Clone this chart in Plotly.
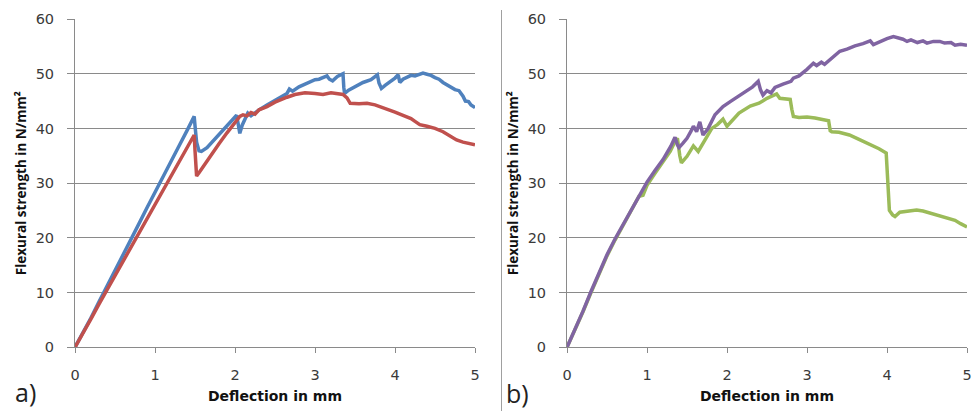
import plotly.graph_objects as go

# ---------------- data ----------------
# Panel a) blue specimen
blue_x = [0, 0.1, 0.2, 0.3, 0.4, 0.5, 0.6, 0.7, 0.8, 0.9, 1.0, 1.1, 1.2, 1.3, 1.4, 1.45, 1.47, 1.49,
          1.50, 1.52, 1.55, 1.58, 1.65, 1.7, 1.8, 1.9, 1.97, 2.02, 2.04, 2.06, 2.09, 2.12, 2.16, 2.2,
          2.3, 2.4, 2.5, 2.6, 2.65, 2.68, 2.72, 2.8, 2.9, 3.0, 3.05, 3.1, 3.15, 3.18, 3.22, 3.28, 3.33,
          3.35, 3.36, 3.37, 3.42, 3.5, 3.6, 3.7, 3.76, 3.78, 3.80, 3.83, 3.88, 3.95, 4.0, 4.04, 4.06,
          4.1, 4.15, 4.2, 4.25, 4.3, 4.35, 4.4, 4.45, 4.5, 4.55, 4.6, 4.65, 4.7, 4.75, 4.8, 4.85, 4.88,
          4.92, 4.95, 5.0]
blue_y = [0, 2.6, 5.4, 8.3, 11.1, 14.0, 16.9, 19.8, 22.6, 25.5, 28.4, 31.2, 34.0, 36.8, 39.6, 41.0, 41.3, 42.2,
          40.5, 37.5, 35.9, 35.8, 36.5, 37.3, 38.8, 40.3, 41.5, 42.4, 40.8, 39.1, 40.6, 41.4, 42.8, 42.3,
          43.4, 44.3, 45.2, 46.0, 46.4, 47.2, 46.8, 47.6, 48.2, 48.9, 49.0, 49.3, 49.6, 49.0, 48.7, 49.5, 49.8,
          50.0, 47.5, 46.4, 47.0, 47.6, 48.4, 48.9, 49.5, 49.8, 48.3, 47.3, 47.9, 48.6, 49.2, 49.8, 48.4,
          49.0, 49.4, 49.7, 49.6, 49.9, 50.1, 49.9, 49.7, 49.3, 49.0, 48.4, 48.0, 47.6, 47.1, 46.9, 45.9, 45.0,
          44.9, 44.3, 43.8]

# Panel a) red specimen
red_x = [0, 0.1, 0.2, 0.3, 0.4, 0.5, 0.6, 0.7, 0.8, 0.9, 1.0, 1.1, 1.2, 1.3, 1.4, 1.45, 1.49,
         1.50, 1.51, 1.52, 1.55, 1.6, 1.7, 1.8, 1.9, 2.0, 2.06, 2.1, 2.15, 2.2, 2.25, 2.3, 2.4, 2.5,
         2.56, 2.65, 2.75, 2.875, 3.0, 3.1, 3.2, 3.3, 3.35, 3.4, 3.44, 3.55, 3.65, 3.75, 3.81, 3.9,
         4.0, 4.1, 4.2, 4.25, 4.31, 4.4, 4.5, 4.6, 4.7, 4.77, 4.85, 4.92, 5.0]
red_y = [0, 2.5, 5.2, 7.9, 10.5, 13.1, 15.7, 18.3, 20.9, 23.5, 26.1, 28.7, 31.3, 33.8, 36.4, 37.7, 38.8,
         36.0, 33.0, 31.3, 31.9, 33.0, 35.1, 37.2, 39.2, 41.0, 42.2, 42.5, 42.3, 42.9, 42.6, 43.4, 44.0, 44.8,
         45.2, 45.7, 46.2, 46.5, 46.4, 46.2, 46.5, 46.3, 46.2, 45.6, 44.6, 44.5, 44.6, 44.3, 44.0, 43.6,
         43.0, 42.4, 41.8, 41.3, 40.7, 40.4, 40.0, 39.4, 38.6, 37.9, 37.5, 37.2, 37.0]

# Panel b) green specimen
green_x = [0, 0.1, 0.2, 0.3, 0.4, 0.5, 0.6, 0.7, 0.8, 0.9, 0.95, 1.0, 1.1, 1.2, 1.29, 1.35, 1.38,
           1.41, 1.43, 1.5, 1.58, 1.64, 1.7, 1.81, 1.88, 1.95, 2.0, 2.05, 2.15, 2.29, 2.4, 2.5, 2.56,
           2.62, 2.66, 2.72, 2.79, 2.81, 2.83, 2.9, 3.0, 3.1, 3.2, 3.27, 3.29, 3.31, 3.4, 3.53, 3.65,
           3.8, 3.9, 3.99, 4.01, 4.03, 4.07, 4.1, 4.16, 4.25, 4.37, 4.45, 4.55, 4.66, 4.75, 4.85, 4.92, 5.0]
green_y = [0, 3.1, 6.5, 10.0, 13.4, 16.7, 19.6, 22.3, 24.9, 27.6, 27.8, 29.6, 31.8, 33.8, 35.8, 37.6, 38.2,
           35.0, 33.7, 34.9, 36.8, 35.8, 37.3, 40.0, 40.7, 41.7, 40.4, 41.2, 42.8, 44.1, 44.6, 45.5, 45.9,
           46.3, 45.5, 45.4, 45.3, 43.5, 42.2, 42.0, 42.1, 41.9, 41.6, 41.4, 39.6, 39.4, 39.3, 38.8, 38.0,
           37.0, 36.3, 35.5, 30.0, 25.0, 24.2, 23.9, 24.7, 24.9, 25.1, 24.9, 24.5, 24.0, 23.6, 23.2, 22.6, 22.0]

# Panel b) purple specimen
purple_x = [0, 0.1, 0.2, 0.3, 0.4, 0.5, 0.6, 0.7, 0.8, 0.9, 1.0, 1.1, 1.2, 1.3, 1.35, 1.38, 1.40,
            1.45, 1.5, 1.55, 1.58, 1.62, 1.66, 1.70, 1.76, 1.85, 1.95, 2.05, 2.16, 2.25, 2.32, 2.39,
            2.42, 2.45, 2.5, 2.55, 2.6, 2.7, 2.8, 2.83, 2.9, 3.0, 3.08, 3.12, 3.18, 3.22, 3.3, 3.41,
            3.5, 3.6, 3.7, 3.79, 3.83, 3.9, 4.0, 4.08, 4.15, 4.2, 4.25, 4.3, 4.38, 4.45, 4.5, 4.58,
            4.66, 4.72, 4.8, 4.85, 4.92, 5.0]
purple_y = [0, 3.2, 6.6, 10.2, 13.6, 16.9, 19.8, 22.4, 25.0, 27.5, 30.2, 32.3, 34.3, 36.8, 38.4, 37.0, 36.5,
            37.3, 38.2, 39.5, 40.4, 39.4, 41.2, 38.8, 39.9, 42.5, 44.0, 45.0, 46.1, 47.0, 47.6, 48.6,
            47.0, 46.1, 46.9, 46.5, 47.5, 48.1, 48.6, 49.2, 49.6, 50.8, 51.9, 51.5, 52.1, 51.7, 52.8, 54.1,
            54.5, 55.1, 55.5, 56.0, 55.3, 55.8, 56.4, 56.8, 56.6, 56.3, 55.9, 56.2, 55.7, 56.0, 55.6, 55.9,
            55.9, 55.6, 55.7, 55.2, 55.4, 55.2]

x_ticks = [0, 1, 2, 3, 4, 5]
y_ticks = [0, 10, 20, 30, 40, 50, 60]
x_title = "Deflection in mm"
y_title = "Flexural strength in N/mm²"
panel_labels = ["a)", "b)"]

# ---------------- styling ----------------
W, H = 972, 411
GRID = "#8a8a8a"
TICKFONT = dict(family="DejaVu Sans", size=14.5, color="#3a3a3a")
XTITLEFONT = dict(family="DejaVu Sans", size=14, color="#111111", weight="bold")
YTITLEFONT = dict(family="Open Sans", size=13.5, color="#111111", weight="bold")
LABELFONT = dict(family="Open Sans", size=25, color="#222222")


def px_x(p):
    return p / W


def px_y(p):
    return 1 - p / H


fig = go.Figure()
fig.add_trace(go.Scatter(x=blue_x, y=blue_y, mode="lines", line=dict(color="#4F81BD", width=3.5),
                         xaxis="x", yaxis="y", hoverinfo="skip"))
fig.add_trace(go.Scatter(x=red_x, y=red_y, mode="lines", line=dict(color="#C0504D", width=3.5),
                         xaxis="x", yaxis="y", hoverinfo="skip"))
fig.add_trace(go.Scatter(x=green_x, y=green_y, mode="lines", line=dict(color="#9BBB59", width=3.5),
                         xaxis="x2", yaxis="y2", hoverinfo="skip"))
fig.add_trace(go.Scatter(x=purple_x, y=purple_y, mode="lines", line=dict(color="#8064A2", width=3.5),
                         xaxis="x2", yaxis="y2", hoverinfo="skip"))

ydom = [px_y(347.3), px_y(19)]


def xaxis_cfg(dom, anchor):
    return dict(domain=dom, anchor=anchor, range=[0, 5], tickvals=x_ticks, ticktext=[str(v) for v in x_ticks],
                automargin=False,
                showgrid=False, zeroline=False, showline=True, linecolor=GRID, linewidth=1,
                ticks="outside", ticklen=5, tickcolor=GRID, tickwidth=1, tickfont=TICKFONT,
                ticklabelstandoff=9,
                title=dict(text=x_title, font=XTITLEFONT, standoff=9), fixedrange=True)


def yaxis_cfg(anchor):
    return dict(domain=ydom, anchor=anchor, range=[0, 60], tickvals=y_ticks, ticktext=[str(v) for v in y_ticks],
                automargin=False,
                showgrid=True, gridcolor=GRID, gridwidth=1, zeroline=False, showline=True,
                linecolor=GRID, linewidth=1, ticks="outside", ticklen=7, tickcolor=GRID, tickwidth=1,
                tickfont=TICKFONT, ticklabelstandoff=10,
                title=dict(text=y_title, font=YTITLEFONT, standoff=5), fixedrange=True)


fig.update_layout(
    width=W, height=H, margin=dict(l=0, r=0, t=0, b=0),
    paper_bgcolor="white", plot_bgcolor="white", showlegend=False,
    xaxis=xaxis_cfg([px_x(75), px_x(475)], "y"),
    yaxis=yaxis_cfg("x"),
    xaxis2=xaxis_cfg([px_x(567), px_x(967)], "y2"),
    yaxis2=yaxis_cfg("x2"),
    shapes=[dict(type="line", xref="paper", yref="paper", x0=px_x(501.5), x1=px_x(501.5),
                 y0=px_y(10), y1=0, line=dict(color="#a0a0a0", width=1))],
    annotations=[
        dict(text=panel_labels[0], xref="paper", yref="paper", x=px_x(14), y=px_y(392),
             xanchor="left", yanchor="middle", showarrow=False, borderpad=0, font=LABELFONT),
        dict(text=panel_labels[1], xref="paper", yref="paper", x=px_x(505), y=px_y(393),
             xanchor="left", yanchor="middle", showarrow=False, borderpad=0, font=LABELFONT),
    ],
)

fig.write_html("out.html", config={"displayModeBar": False})
